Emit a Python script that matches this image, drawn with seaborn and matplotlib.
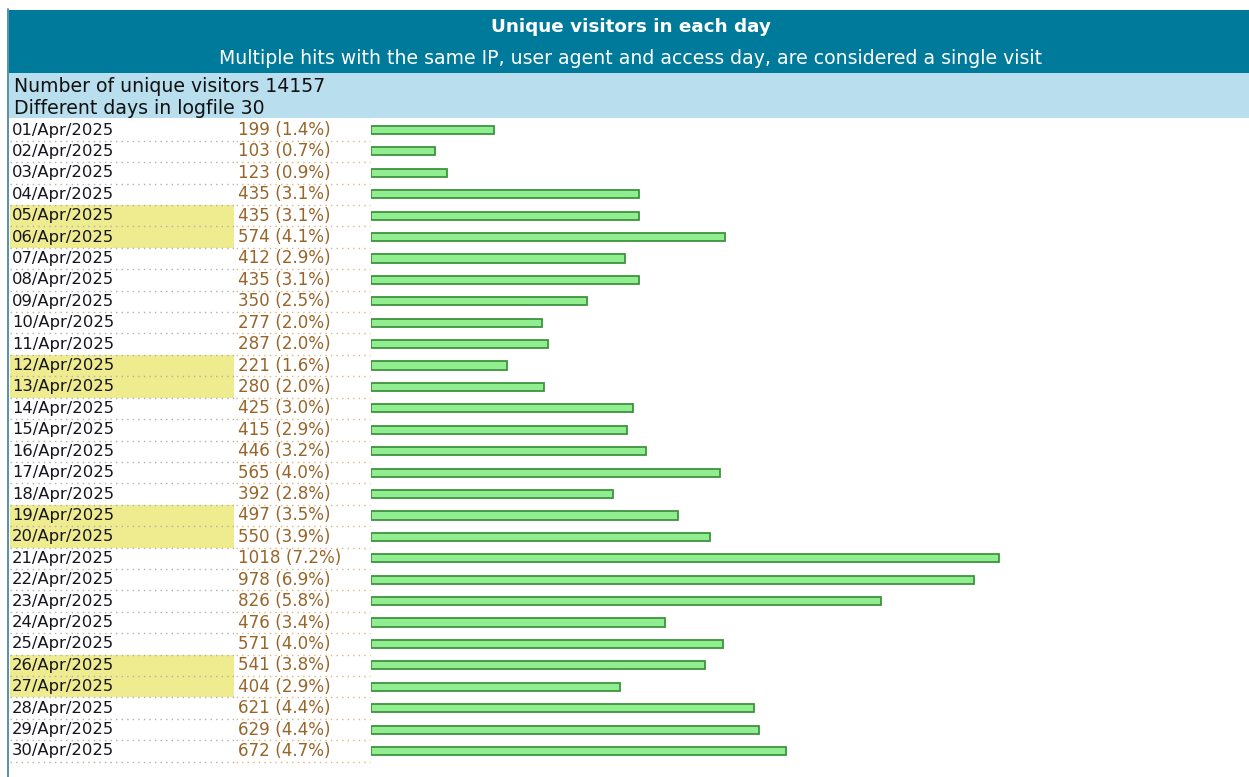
import matplotlib
matplotlib.use("Agg")
import matplotlib.pyplot as plt
import matplotlib.transforms as mtransforms
from matplotlib.patches import Rectangle
import seaborn as sns
import pandas as pd

# ---- data ----
dates = ["01/Apr/2025", "02/Apr/2025", "03/Apr/2025", "04/Apr/2025", "05/Apr/2025",
         "06/Apr/2025", "07/Apr/2025", "08/Apr/2025", "09/Apr/2025", "10/Apr/2025",
         "11/Apr/2025", "12/Apr/2025", "13/Apr/2025", "14/Apr/2025", "15/Apr/2025",
         "16/Apr/2025", "17/Apr/2025", "18/Apr/2025", "19/Apr/2025", "20/Apr/2025",
         "21/Apr/2025", "22/Apr/2025", "23/Apr/2025", "24/Apr/2025", "25/Apr/2025",
         "26/Apr/2025", "27/Apr/2025", "28/Apr/2025", "29/Apr/2025", "30/Apr/2025"]
visitors = [199, 103, 123, 435, 435, 574, 412, 435, 350, 277,
            287, 221, 280, 425, 415, 446, 565, 392, 497, 550,
            1018, 978, 826, 476, 571, 541, 404, 621, 629, 672]
percents = ["1.4%", "0.7%", "0.9%", "3.1%", "3.1%", "4.1%", "2.9%", "3.1%", "2.5%", "2.0%",
            "2.0%", "1.6%", "2.0%", "3.0%", "2.9%", "3.2%", "4.0%", "2.8%", "3.5%", "3.9%",
            "7.2%", "6.9%", "5.8%", "3.4%", "4.0%", "3.8%", "2.9%", "4.4%", "4.4%", "4.7%"]
weekend_days = ["05/Apr/2025", "06/Apr/2025", "12/Apr/2025", "13/Apr/2025",
                "19/Apr/2025", "20/Apr/2025", "26/Apr/2025", "27/Apr/2025"]
title = "Unique visitors in each day"
subtitle = "Multiple hits with the same IP, user agent and access day, are considered a single visit"
summary_lines = ["Number of unique visitors 14157", "Different days in logfile 30"]

df = pd.DataFrame({"date": dates, "visitors": visitors})

W, H = 1249, 777
sns.set_theme(style="white")
plt.rcParams["font.family"] = ["DejaVu Sans"]

fig = plt.figure(figsize=(W / 100, H / 100), dpi=100)

# background / header axes in pixel units
bg = fig.add_axes([0, 0, 1, 1])
bg.set_xlim(0, W)
bg.set_ylim(H, 0)
bg.axis("off")
teal = "#007a9a"
bg.add_patch(Rectangle((9, 10), W - 9, 63, facecolor=teal, edgecolor="none"))
bg.add_patch(Rectangle((9, 73), W - 9, 45, facecolor="#b9dfef", edgecolor="none"))
bg.plot([8, 8], [9, H], color="#3a7f99", lw=1.2)
bg.text(631, 27, title, color="white", fontsize=13.2, fontweight="bold", ha="center", va="center")
bg.text(631, 59, subtitle, color="white", fontsize=13.6, ha="center", va="center")
bg.text(14, 87, summary_lines[0], color="#111111", fontsize=13.6, ha="left", va="center")
bg.text(14, 108, summary_lines[1], color="#111111", fontsize=13.6, ha="left", va="center")

# bar axes
row_top_px = 119.3
row_bottom_px = 761.7
bar_left_px = 371
scale = 0.617  # px per visitor
ax = fig.add_axes([bar_left_px / W, 1 - row_bottom_px / H,
                   (W - bar_left_px) / W, (row_bottom_px - row_top_px) / H])
ax.patch.set_alpha(0)

sns.barplot(data=df, x="visitors", y="date", orient="h", ax=ax,
            color="#90ee90", edgecolor="#3f933f", linewidth=1.3, width=0.38,
            saturation=1)
ax.set_xlim(0, (W - bar_left_px) / scale)
ax.set_ylim(len(dates) - 0.5, -0.5)
ax.axis("off")

trans = mtransforms.blended_transform_factory(fig.transFigure, ax.transData)
for i, (d, v, p) in enumerate(zip(dates, visitors, percents)):
    if d in weekend_days:
        ax.add_patch(Rectangle((10 / W, i - 0.5), 224 / W, 1.0, transform=trans,
                               facecolor="#efeb8f", edgecolor="none", clip_on=False, zorder=0))
    ax.text(12 / W, i, d, transform=trans, fontsize=11.8, color="#15151f",
            ha="left", va="center", clip_on=False)
    ax.text(238 / W, i, f"{v} ({p})", transform=trans, fontsize=12.1, color="#97652a",
            ha="left", va="center", clip_on=False)
    ax.plot([10 / W, 234 / W], [i + 0.5, i + 0.5], transform=trans, color="#b0b0b0",
            lw=1, ls=(0, (1, 3)), clip_on=False)
    ax.plot([236 / W, 370 / W], [i + 0.5, i + 0.5], transform=trans, color="#e3b277",
            lw=1, ls=(0, (1, 3)), clip_on=False)

fig.savefig("out.png", dpi=100)
